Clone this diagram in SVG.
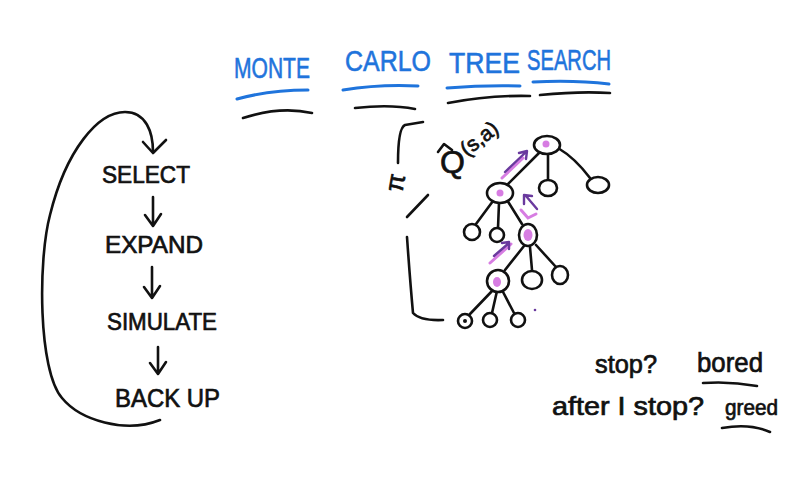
<svg xmlns="http://www.w3.org/2000/svg" width="800" height="494" viewBox="0 0 800 494">
<defs>
<style>
.ink{fill:none;stroke:#111;stroke-width:2.6;stroke-linecap:round;stroke-linejoin:round}
.blue{fill:none;stroke:#1f74dc;stroke-width:3;stroke-linecap:round}
.node{fill:#fff;stroke:#111;stroke-width:2.6}
.dot{fill:#d77de2}
.pink{fill:none;stroke:#d77de2;stroke-width:3;stroke-linecap:round}
.purp{fill:none;stroke:#6a3a9e;stroke-width:2.4;stroke-linecap:round;stroke-linejoin:round}
.t{font-family:"Liberation Sans",Arial,sans-serif;fill:#111;stroke:#111;stroke-width:0.7}
.title{font-family:"Liberation Sans",Arial,sans-serif;fill:#1f74dc;stroke:#1f74dc;stroke-width:0.6;font-size:29px}
</style>
</defs>
<rect width="800" height="494" fill="#fff"/>

<g id="title">
<text class="title" x="234" y="78" textLength="76" lengthAdjust="spacingAndGlyphs">MONTE</text>
<text class="title" x="345" y="71" textLength="86" lengthAdjust="spacingAndGlyphs">CARLO</text>
<text class="title" x="449" y="73" textLength="71" lengthAdjust="spacingAndGlyphs">TREE</text>
<text class="title" x="527" y="70" textLength="84" lengthAdjust="spacingAndGlyphs">SEARCH</text>
<path class="blue" d="M237,99 Q270,90 308,90"/>
<path class="blue" d="M343,90 Q380,84 418,86"/>
<path class="blue" d="M447,88 Q485,85 520,86"/>
<path class="blue" d="M533,82 Q575,80 609,84"/>
<path class="ink" d="M243,118 Q280,106 312,113"/>
<path class="ink" d="M355,108 Q390,104 415,109"/>
<path class="ink" d="M448,103 Q490,95 530,96"/>
<path class="ink" d="M540,95 Q580,91 610,93"/>
</g>

<g id="steps">
<text class="t" x="102" y="183" font-size="24" textLength="88" lengthAdjust="spacingAndGlyphs">SELECT</text>
<text class="t" x="105" y="253" font-size="24" textLength="98" lengthAdjust="spacingAndGlyphs">EXPAND</text>
<text class="t" x="107" y="330" font-size="24" textLength="110" lengthAdjust="spacingAndGlyphs">SIMULATE</text>
<text class="t" x="115" y="407" font-size="26" textLength="105" lengthAdjust="spacingAndGlyphs">BACK UP</text>
</g>

<g id="cycle-connectors">
<path class="ink" d="M153,197 L153,225 M145,215 L153,226 L161,214"/>
<path class="ink" d="M152,267 L152,297 M144,287 L152,298 L160,286"/>
<path class="ink" d="M158,347 L158,373 M150,363 L158,374 L166,362"/>
<path class="ink" d="M160,420 C125,434 80,420 62,398 C38,370 38,260 50,215 C66,150 98,112 125,112 C146,112 153,132 153,152"/>
<path class="ink" d="M143,142 L153,153 L166,140"/>
</g>

<g id="policy">
<path class="ink" d="M423,122 L405,125 Q398,128 398,163"/>
<text class="t" x="388" y="190" font-size="26" transform="rotate(-80 397 183)">π</text>
<path class="ink" d="M428,195 L407,217"/>
<path class="ink" d="M407,237 Q410,280 413,313 Q420,321 443,320"/>
<text class="t" x="440" y="173" font-size="32">Q</text>
<path class="ink" d="M438,152 L444,144 L452,150"/>
<text class="t" x="467" y="157" font-size="21" transform="rotate(-38 467 157)">(s,a)</text>
</g>

<g id="tree-connectors">
<path class="ink" d="M540,152 L506,186"/>
<path class="ink" d="M548,154 L548,180"/>
<path class="ink" d="M558,148 Q575,158 590,178"/>
<path class="ink" d="M493,201 L476,224"/>
<path class="ink" d="M499,203 L498,228"/>
<path class="ink" d="M507,200 L522,224"/>
<path class="ink" d="M524,246 L505,270"/>
<path class="ink" d="M530,247 L532,270"/>
<path class="ink" d="M536,245 L556,267"/>
<path class="ink" d="M493,290 L470,314"/>
<path class="ink" d="M497,291 L492,313"/>
<path class="ink" d="M502,290 L514,313"/>
<path class="pink" d="M502,178 L523,158"/>
<path class="purp" d="M505,172 L526,152 M519,153 L527,151 L526,159"/>
<path class="pink" d="M521,210 L528,218 L536,214"/>
<path class="purp" d="M537,209 L526,196 M524,204 L524,195 L532,196"/>
<path class="pink" d="M490,263 L511,244"/>
<path class="purp" d="M494,256 L509,243 M502,243 L509,242 L509,249"/>
<circle cx="535" cy="310" r="1.3" fill="#6a3a9e"/>
</g>

<g id="root"><ellipse class="node" cx="547" cy="145" rx="13" ry="9"/><circle class="dot" cx="546" cy="144" r="3.5"/></g>
<g id="n1"><ellipse class="node" cx="548" cy="188" rx="9" ry="8"/></g>
<g id="n2"><ellipse class="node" cx="598" cy="185" rx="11" ry="8"/></g>
<g id="n3"><ellipse class="node" cx="500" cy="193" rx="13" ry="10"/><circle class="dot" cx="500" cy="193" r="3.5"/></g>
<g id="n4"><ellipse class="node" cx="472" cy="232" rx="8" ry="8"/></g>
<g id="n5"><ellipse class="node" cx="497" cy="235" rx="7" ry="7"/></g>
<g id="n6"><ellipse class="node" cx="528" cy="235" rx="9" ry="11"/><ellipse class="dot" cx="528" cy="235" rx="4.5" ry="6"/></g>
<g id="n7"><ellipse class="node" cx="498" cy="281" rx="11" ry="11"/><ellipse class="dot" cx="497" cy="282" rx="4" ry="5"/></g>
<g id="n8"><ellipse class="node" cx="532" cy="280" rx="10" ry="9"/></g>
<g id="n9"><ellipse class="node" cx="560" cy="275" rx="8" ry="9"/></g>
<g id="n10"><ellipse class="node" cx="465" cy="321" rx="7" ry="7"/><circle cx="465" cy="321" r="2" fill="#111"/></g>
<g id="n11"><ellipse class="node" cx="490" cy="320" rx="7" ry="7"/></g>
<g id="n12"><ellipse class="node" cx="518" cy="320" rx="7" ry="7"/></g>

<g id="notes">
<text class="t" x="595" y="373" font-size="26" textLength="62" lengthAdjust="spacingAndGlyphs">stop?</text>
<text class="t" x="697" y="372" font-size="28" textLength="66" lengthAdjust="spacingAndGlyphs">bored</text>
<path class="ink" d="M703,383 Q730,381 757,386"/>
<text class="t" x="552" y="415" font-size="26" textLength="152" lengthAdjust="spacingAndGlyphs">after I stop?</text>
<text class="t" x="725" y="415" font-size="22" textLength="53" lengthAdjust="spacingAndGlyphs">greed</text>
<path class="ink" d="M722,428 Q750,423 770,432"/>
</g>
</svg>
